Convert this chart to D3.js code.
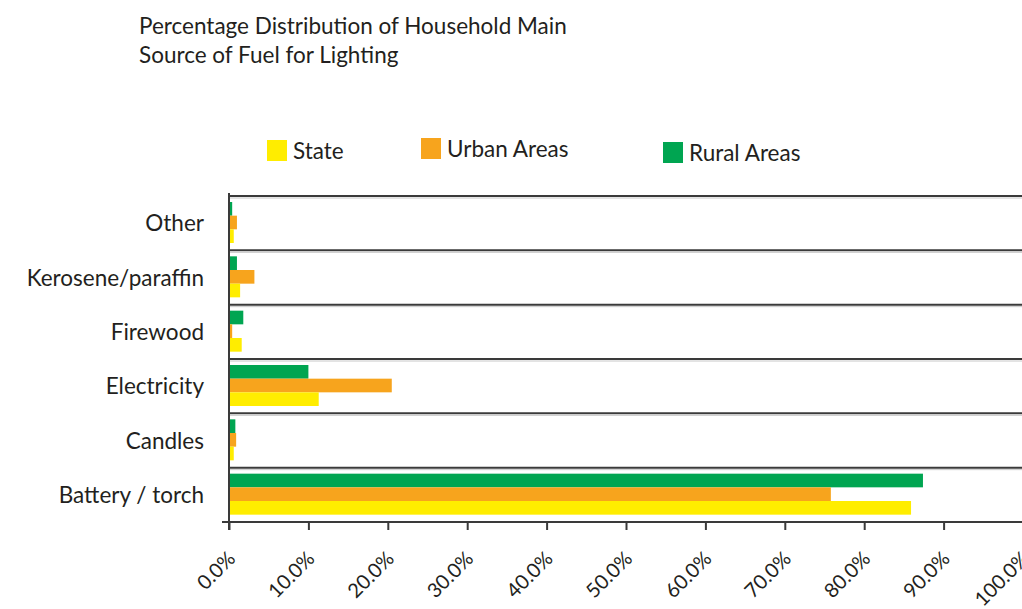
<!DOCTYPE html>
<html>
<head>
<meta charset="utf-8">
<script src="https://cdn.jsdelivr.net/npm/d3@7"></script>
<style>
  body { margin: 0; background: #fff; }
  text { font-family: Lato, "Open Sans", sans-serif; fill: #231f20; }
</style>
</head>
<body>
<div id="chart"></div>
<script>
const width = 1022;
const height = 609;

// categories, top to bottom
const categories = ["Other", "Kerosene/paraffin", "Firewood", "Electricity", "Candles", "Battery / torch"];

// percentages per series (same order as categories)
const stateValues = [0.6, 1.4, 1.6, 11.3, 0.6, 85.9];
const urbanValues = [1.0, 3.2, 0.4, 20.5, 0.9, 75.8];
const ruralValues = [0.4, 1.0, 1.8, 10.0, 0.8, 87.4];

const seriesNames = ["Rural Areas", "Urban Areas", "State"];
const legendNames = ["State", "Urban Areas", "Rural Areas"];
const colors = {"State": "#ffed00", "Urban Areas": "#f7a41d", "Rural Areas": "#00a551"};

const xTicks = [0, 10, 20, 30, 40, 50, 60, 70, 80, 90, 100];

const margin = {left: 229, right: 0, top: 196, bottom: 87};

let svg = d3.select("#chart")
    .append("svg")
    .attr("width", width)
    .attr("height", height);

// title
svg.append("text")
    .attr("x", 139)
    .attr("y", 34)
    .style("font-size", "22.5px")
    .text("Percentage Distribution of Household Main");
svg.append("text")
    .attr("x", 139)
    .attr("y", 63)
    .style("font-size", "22.5px")
    .text("Source of Fuel for Lighting");

let x = d3.scaleLinear()
    .domain([0, 100])
    .range([margin.left, 1023]);

let y = d3.scaleBand()
    .domain(categories)
    .range([margin.top, height - margin.bottom])
    .padding(0);

let inner = d3.scaleBand()
    .domain(seriesNames)
    .range([6, 47]);

const rows = categories.map((c, i) => ({
    category: c,
    values: {"State": stateValues[i], "Urban Areas": urbanValues[i], "Rural Areas": ruralValues[i]}
}));

// band separators
svg.selectAll(".sep")
    .data(categories)
    .join("line")
    .attr("class", "sep")
    .attr("x1", margin.left)
    .attr("x2", width)
    .attr("y1", d => y(d))
    .attr("y2", d => y(d))
    .attr("stroke", "#3a3a3a")
    .attr("stroke-width", 2);

svg.selectAll(".sep-shadow")
    .data(categories)
    .join("line")
    .attr("class", "sep-shadow")
    .attr("x1", margin.left)
    .attr("x2", width)
    .attr("y1", d => y(d) + 2)
    .attr("y2", d => y(d) + 2)
    .attr("stroke", "#c8c8c8")
    .attr("stroke-width", 1);

// bars
let groups = svg.selectAll(".grp")
    .data(rows)
    .join("g")
    .attr("class", "grp")
    .attr("transform", d => `translate(0,${y(d.category)})`);

groups.selectAll("rect")
    .data(d => seriesNames.map(s => ({series: s, value: d.values[s]})))
    .join("rect")
    .attr("x", x(0) + 1)
    .attr("y", d => inner(d.series))
    .attr("width", d => Math.max(0, x(d.value) - x(0) - 1))
    .attr("height", inner.bandwidth())
    .attr("fill", d => colors[d.series]);

// category labels
svg.selectAll(".cat")
    .data(categories)
    .join("text")
    .attr("class", "cat")
    .attr("x", 204)
    .attr("y", d => y(d) + y.bandwidth() / 2 + 8)
    .attr("text-anchor", "end")
    .style("font-size", "22.5px")
    .text(d => d);

// vertical axis line
svg.append("line")
    .attr("x1", margin.left)
    .attr("x2", margin.left)
    .attr("y1", margin.top - 3)
    .attr("y2", height - margin.bottom + 8)
    .attr("stroke", "#3a3a3a")
    .attr("stroke-width", 2);

// x axis
let xAxis = d3.axisBottom(x)
    .tickValues(xTicks)
    .tickSize(8)
    .tickSizeOuter(0)
    .tickFormat(d => d.toFixed(1) + "%");

let gx = svg.append("g")
    .attr("transform", `translate(0,${height - margin.bottom})`)
    .call(xAxis);

gx.select(".domain")
    .attr("stroke", "#3a3a3a")
    .attr("stroke-width", 2)
    .attr("d", `M${margin.left - 7},0H${width}`);

gx.selectAll(".tick line")
    .attr("stroke", "#3a3a3a")
    .attr("stroke-width", 2);

gx.selectAll(".tick text")
    .attr("y", 0)
    .attr("dy", 0)
    .attr("text-anchor", "end")
    .attr("transform", "translate(7,38) rotate(-45)")
    .style("font-size", "20px")
    .style("font-family", "Lato, 'Open Sans', sans-serif")
    .attr("fill", "#231f20");

// legend
const legendPos = [
    {x: 267, y: 140},
    {x: 421, y: 138},
    {x: 663, y: 142}
];

let legend = svg.selectAll(".legend")
    .data(legendNames)
    .join("g")
    .attr("class", "legend")
    .attr("transform", (d, i) => `translate(${legendPos[i].x},${legendPos[i].y})`);

legend.append("rect")
    .attr("width", 20)
    .attr("height", 21)
    .attr("fill", d => colors[d]);

legend.append("text")
    .attr("x", 26)
    .attr("y", 19)
    .style("font-size", "22.5px")
    .text(d => d);
</script>
</body>
</html>
